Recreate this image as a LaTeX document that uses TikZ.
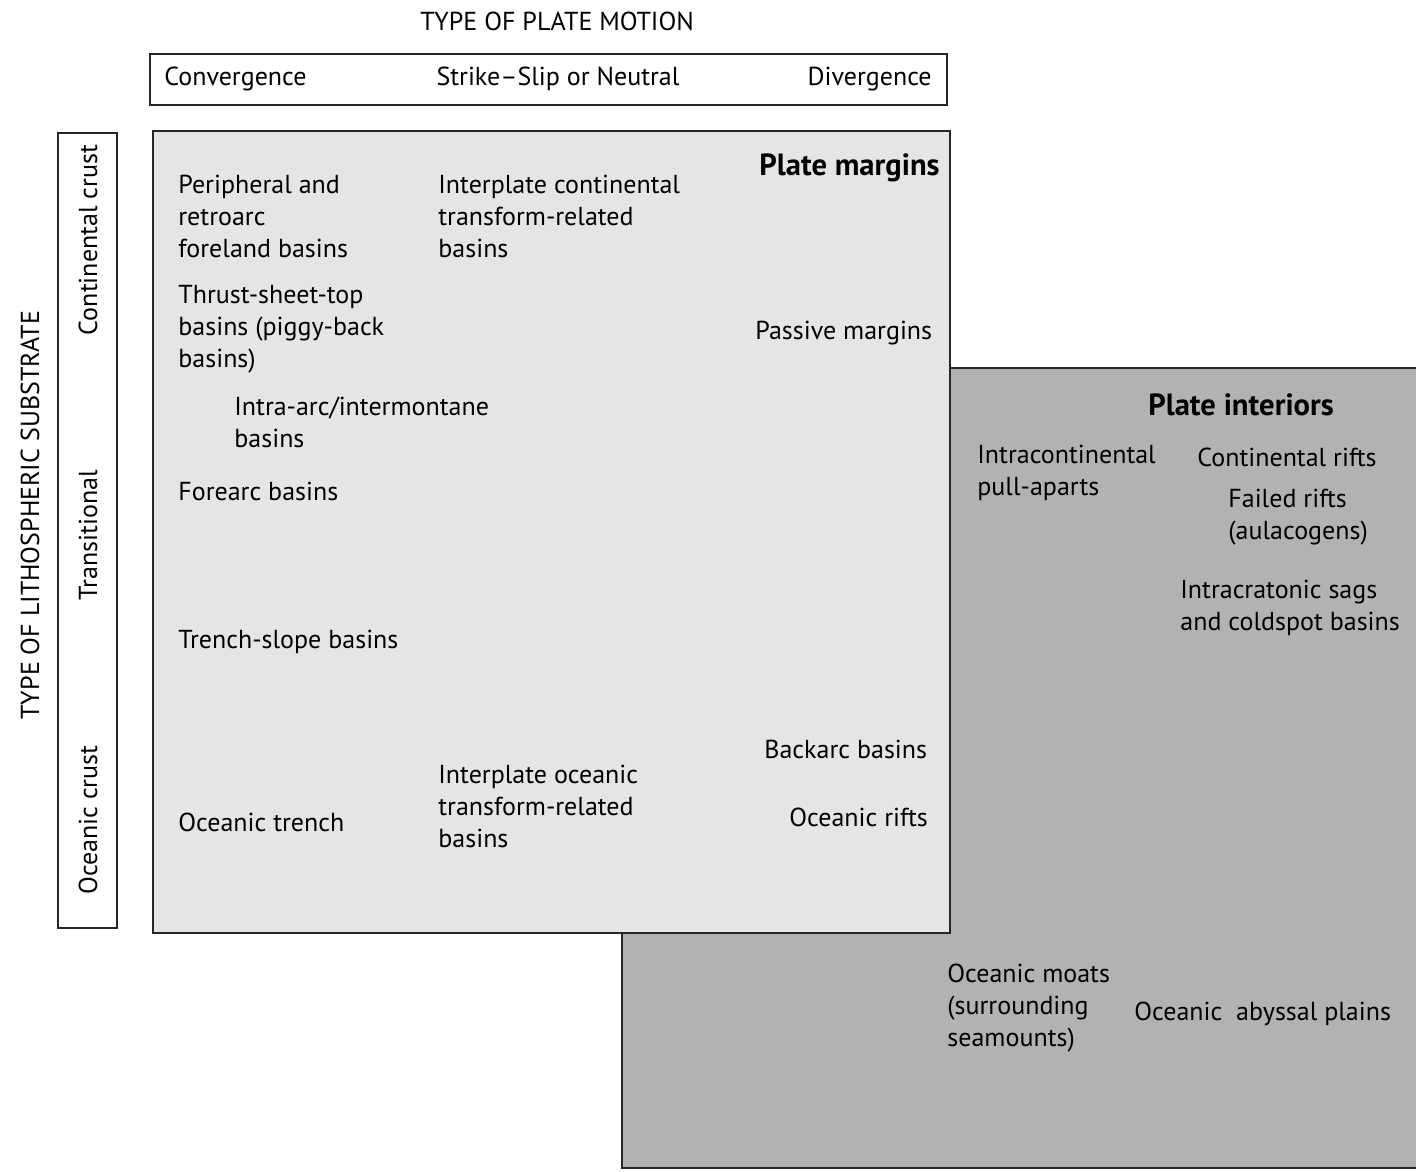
\documentclass[tikz,border=0pt]{standalone}
\usepackage{fontspec}
\setmainfont{PT Sans}
\usepackage{tikz}
\usetikzlibrary{positioning, backgrounds}

\begin{document}
\begin{tikzpicture}[
    x=0.5pt, y=-0.5pt,
    every node/.style={font=\fontsize{13}{16}\selectfont, inner sep=0pt},
    frame/.style={draw=black!85, line width=1.1pt},
    margins/.style={frame, fill=black!10},
    interiors/.style={fill=black!30},
    lbl/.style={anchor=west, align=left},
    head/.style={font=\fontsize{15.3}{16}\selectfont\bfseries}
]
\useasboundingbox (0,0) rectangle (1416,1171);

% --- Plate interiors (behind) ---
\fill[interiors] (622,368) rectangle (1416,1168);
\draw[frame] (1416,368) -- (622,368) -- (622,1168) -- (1416,1168);

% --- Plate margins ---
\draw[margins] (153,131) rectangle (950,933);

% --- Plate motion axis ---
\node (motion) at (557,21) {TYPE OF PLATE MOTION};
\draw[frame, fill=white] (150,54) rectangle (947,105);
\node[anchor=west] (conv) at (164,79) {Convergence};
\node (strike) at (558,79) {Strike--Slip or Neutral};
\node[anchor=east] (div) at (932,79) {Divergence};

% --- Substrate axis ---
\node[rotate=90] (subst) at (30,515) {TYPE OF LITHOSPHERIC SUBSTRATE};
\draw[frame, fill=white] (58,133) rectangle (117,928);
\node[rotate=90] (cont) at (88,240) {Continental crust};
\node[rotate=90] (trans) at (88,535) {Transitional};
\node[rotate=90] (ocean) at (88,820) {Oceanic crust};

% --- Plate margin basins ---
\node[head, anchor=east] (pm) at (940,168) {Plate margins};
\node[lbl] (periph) at (178,216) {Peripheral and\\retroarc\\foreland basins};
\node[lbl] (icont) at (438,216) {Interplate continental\\transform-related\\basins};
\node[lbl] (thrust) at (178,329) {Thrust-sheet-top\\basins (piggy-back\\basins)};
\node[lbl] (passive) at (755,333) {Passive margins};
\node[lbl] (intraarc) at (234,422) {Intra-arc/intermontane\\basins};
\node[lbl] (forearc) at (178,491) {Forearc basins};
\node[lbl] (trench) at (178,642) {Trench-slope basins};
\node[lbl] (backarc) at (764,749) {Backarc basins};
\node[lbl] (iocean) at (438,806) {Interplate oceanic\\transform-related\\basins};
\node[lbl] (otrench) at (178,822) {Oceanic trench};
\node[lbl] (orifts) at (789,817) {Oceanic rifts};

% --- Plate interior basins ---
\node[head] (pi) at (1241,405) {Plate interiors};
\node[lbl] (pull) at (977,473) {Intracontinental\\pull-aparts};
\node[lbl] (crifts) at (1197,457) {Continental rifts};
\node[lbl] (failed) at (1228,517) {Failed rifts\\(aulacogens)};
\node[lbl] (sags) at (1180,608) {Intracratonic sags\\and coldspot basins};
\node[lbl] (moats) at (947,1008) {Oceanic moats\\(surrounding\\seamounts)};
\node[lbl] (abyss) at (1134,1014) {Oceanic\ \ abyssal plains};
\end{tikzpicture}
\end{document}
